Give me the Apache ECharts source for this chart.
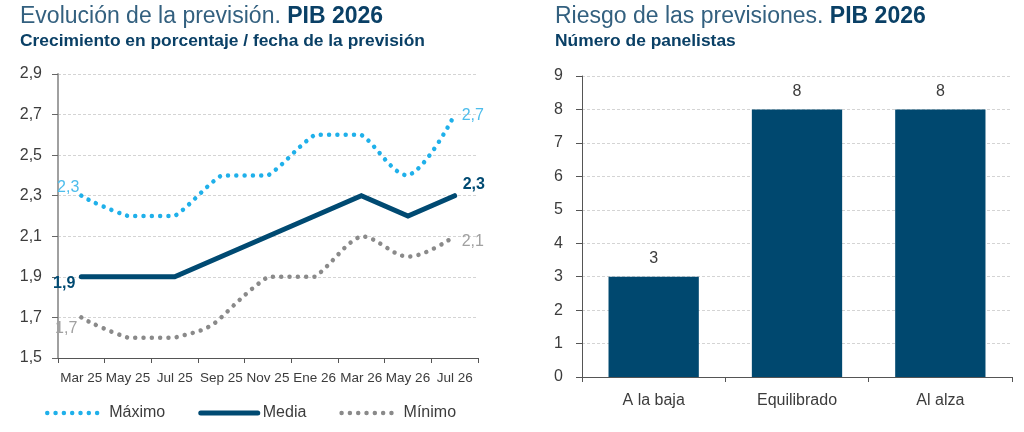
<!DOCTYPE html>
<html>
<head>
<meta charset="utf-8">
<script src="https://cdn.jsdelivr.net/npm/echarts@6/dist/echarts.min.js"></script>
<style>
html,body{margin:0;padding:0;background:#fff;}
#chart{width:1024px;height:432px;}
</style>
</head>
<body>
<div id="chart"></div>
<script>
// ---- data ----
const months = ['Mar 25','May 25','Jul 25','Sep 25','Nov 25','Ene 26','Mar 26','May 26','Jul 26'];
const maximo = [2.3, 2.2, 2.2, 2.4, 2.4, 2.6, 2.6, 2.4, 2.7];
const media  = [1.9, 1.9, 1.9, 2.0, 2.1, 2.2, 2.3, 2.2, 2.3];
const minimo = [1.7, 1.6, 1.6, 1.7, 1.9, 1.9, 2.1, 2.0, 2.1];
const riesgoCats = ['A la baja','Equilibrado','Al alza'];
const riesgoVals = [3, 8, 8];

const FONT = '"Liberation Sans", Arial, sans-serif';
const C_MAX = '#1fb0ea', C_MED = '#004a72', C_MIN = '#8a8a8a';
const C_TXT = '#3c3c3c';
const fmt = v => v.toFixed(1).replace('.', ',');
const DOT = [0.01, 8.3];

function withEndLabels(vals, color, bold, firstOff, lastOff) {
  return vals.map((v, i) => {
    const item = { value: v };
    if (i === 0 || i === vals.length - 1) {
      item.label = {
        show: true,
        position: i === 0 ? 'left' : 'right',
        offset: i === 0 ? firstOff : lastOff,
        formatter: p => fmt(p.value),
        color: color,
        fontSize: 16,
        fontWeight: bold ? 'bold' : 'normal',
        fontFamily: FONT
      };
    }
    return item;
  });
}

// smooth curve (cardinal spline, no overshoot) through the data points, positioned by the axes
function splineSeries(name, vals, color) {
  const clamp = (v, a, b) => Math.max(Math.min(a, b), Math.min(Math.max(a, b), v));
  return {
    name: name, type: 'custom', xAxisIndex: 0, yAxisIndex: 0, z: 3,
    data: vals.map((v, i) => [i, v]),
    renderItem: function (params, api) {
      if (params.dataIndex !== 0) return null;
      const pts = vals.map((v, i) => api.coord([i, v]));
      const n = pts.length;
      let d = 'M' + pts[0][0] + ',' + pts[0][1];
      for (let i = 0; i < n - 1; i++) {
        const p0 = pts[i - 1] || pts[i], p1 = pts[i], p2 = pts[i + 1], p3 = pts[i + 2] || pts[i + 1];
        const c1x = p1[0] + (p2[0] - p0[0]) / 6;
        const c1y = clamp(p1[1] + (p2[1] - p0[1]) / 4, p1[1], p2[1]);
        const c2x = p2[0] - (p3[0] - p1[0]) / 6;
        const c2y = clamp(p2[1] - (p3[1] - p1[1]) / 4, p1[1], p2[1]);
        d += ' C' + c1x + ',' + c1y + ' ' + c2x + ',' + c2y + ' ' + p2[0] + ',' + p2[1];
      }
      return {
        type: 'path',
        shape: { pathData: d },
        style: { fill: null, stroke: color, lineWidth: 4.5, lineDash: DOT, lineCap: 'round' }
      };
    }
  };
}

const chart = echarts.init(document.getElementById('chart'), null, {renderer: 'canvas'});

chart.setOption({
  animation: false,
  textStyle: { fontFamily: FONT },
  title: [
    {
      left: 15, top: 0,
      text: '{a|Evolución de la previsión. }{b|PIB 2026}',
      textStyle: { fontWeight: 'normal', rich: {
        a: { fontSize: 23, color: '#33607f', fontWeight: 'normal', fontFamily: FONT },
        b: { fontSize: 23, color: '#0a4066', fontWeight: 'bold', fontFamily: FONT }
      } }
    },
    {
      left: 15, top: 28,
      text: 'Crecimiento en porcentaje / fecha de la previsión',
      textStyle: { fontSize: 17.4, color: '#0a4066', fontWeight: 'bold', fontFamily: FONT }
    },
    {
      left: 550, top: 0,
      text: '{a|Riesgo de las previsiones. }{b|PIB 2026}',
      textStyle: { fontWeight: 'normal', rich: {
        a: { fontSize: 23, color: '#33607f', fontWeight: 'normal', fontFamily: FONT },
        b: { fontSize: 23, color: '#0a4066', fontWeight: 'bold', fontFamily: FONT }
      } }
    },
    {
      left: 550, top: 28,
      text: 'Número de panelistas',
      textStyle: { fontSize: 17.4, color: '#0a4066', fontWeight: 'bold', fontFamily: FONT }
    }
  ],
  legend: {
    left: 40, top: 400,
    itemWidth: 57, itemHeight: 20, itemGap: 33,
    itemStyle: { opacity: 0 },
    textStyle: { fontSize: 16, color: C_TXT, fontFamily: FONT },
    data: [
      { name: 'Máximo', lineStyle: { color: C_MAX, width: 4.5, type: DOT, cap: 'round', opacity: 1 } },
      { name: 'Media',  lineStyle: { color: C_MED, width: 5, type: 'solid', cap: 'round', opacity: 1 } },
      { name: 'Mínimo', lineStyle: { color: C_MIN, width: 4.5, type: DOT, cap: 'round', opacity: 1 } }
    ]
  },
  grid: [
    { left: 58, top: 74, width: 420, height: 284 },
    { left: 582, top: 76, width: 430, height: 301 }
  ],
  xAxis: [
    {
      type: 'category', gridIndex: 0, data: months, boundaryGap: true,
      axisLine: { lineStyle: { color: '#555', width: 1 } },
      axisTick: { show: true, length: 5, inside: false, lineStyle: { color: '#555' } },
      axisLabel: { interval: 0, fontSize: 13.5, color: C_TXT, margin: 13, fontFamily: FONT }
    },
    {
      type: 'category', gridIndex: 1, data: riesgoCats, boundaryGap: true,
      axisLine: { lineStyle: { color: '#555', width: 1 } },
      axisTick: { show: true, length: 5, lineStyle: { color: '#555' } },
      axisLabel: { interval: 0, fontSize: 16, color: C_TXT, margin: 16, fontFamily: FONT }
    }
  ],
  yAxis: [
    {
      type: 'value', gridIndex: 0, min: 1.5, max: 2.9, interval: 0.2,
      axisLine: { show: true, lineStyle: { color: '#a0a0a0', width: 2 } },
      axisTick: { show: true, length: 6, lineStyle: { color: '#666' } },
      axisLabel: { formatter: v => fmt(v), fontSize: 16, color: C_TXT, margin: 16, fontFamily: FONT },
      splitLine: { show: true, lineStyle: { color: '#d4d4d4', type: [3, 2], width: 1 } }
    },
    {
      type: 'value', gridIndex: 1, min: 0, max: 9, interval: 1,
      axisLine: { show: true, lineStyle: { color: '#555', width: 1 } },
      axisTick: { show: true, length: 6, lineStyle: { color: '#555' } },
      axisLabel: { fontSize: 16, color: C_TXT, margin: 19, fontFamily: FONT },
      splitLine: { show: true, lineStyle: { color: '#d4d4d4', type: [3, 2], width: 1 } }
    }
  ],
  series: [
    splineSeries('Máximo curva', maximo, C_MAX),
    splineSeries('Mínimo curva', minimo, C_MIN),
    {
      name: 'Máximo', type: 'line', xAxisIndex: 0, yAxisIndex: 0,
      symbol: 'circle', symbolSize: 0.1, showSymbol: true,
      itemStyle: { color: C_MAX },
      lineStyle: { color: C_MAX, width: 4.5, type: DOT, cap: 'round', opacity: 0 },
      data: withEndLabels(maximo, '#4dbdec', false, [3, -8], [2, 1]),
      z: 3
    },
    {
      name: 'Media', type: 'line', xAxisIndex: 0, yAxisIndex: 0,
      smooth: false,
      symbol: 'circle', symbolSize: 0.1, showSymbol: true,
      itemStyle: { color: C_MED },
      lineStyle: { color: C_MED, width: 5, cap: 'round', join: 'miter' },
      data: withEndLabels(media, C_MED, true, [-1, 7], [3, -11]),
      z: 4
    },
    {
      name: 'Mínimo', type: 'line', xAxisIndex: 0, yAxisIndex: 0,
      symbol: 'circle', symbolSize: 0.1, showSymbol: true,
      itemStyle: { color: C_MIN },
      lineStyle: { color: C_MIN, width: 4.5, type: DOT, cap: 'round', opacity: 0 },
      data: withEndLabels(minimo, '#a0a0a0', false, [1, 11], [2, 5]),
      z: 3
    },
    {
      name: 'Riesgo', type: 'bar', xAxisIndex: 1, yAxisIndex: 1,
      barWidth: '63%',
      itemStyle: { color: '#00486f' },
      label: { show: true, position: 'top', distance: 10, fontSize: 16, color: C_TXT, fontFamily: FONT },
      data: riesgoVals
    }
  ]
});
</script>
</body>
</html>
